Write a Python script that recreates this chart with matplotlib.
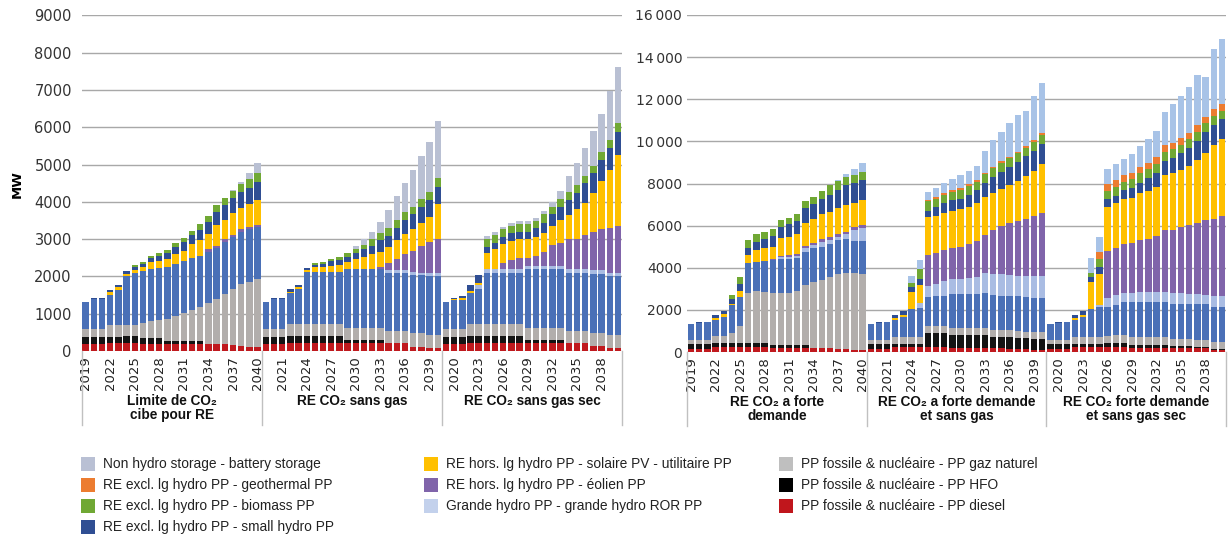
import numpy as np
import matplotlib
matplotlib.use('Agg')
import matplotlib.pyplot as plt
import matplotlib.transforms as mtrans
from matplotlib.patches import Rectangle

# Données ---------------------------------------------------------------------

years = list(range(2019, 2041))
groups_left = ['Limite de CO₂\ncibe pour RE', 'RE CO₂ sans gas', 'RE CO₂ sans gas sec']
groups_right = ['RE CO₂ a forte\ndemande', 'RE CO₂ a forte demande\net sans gas',
                'RE CO₂ forte demande\net sans gas sec']

# graphique gauche (3 scénarios x 22 années), MW
left_diesel = ([180,180,180,210,210,220,210,200,200,200,190,190,190,190,190,190,190,190,150,140,110,110]
               + [180,180,180,223,223,223,223,223,223,223,205,205,205,205,205,205,205,205,116,116,90,90]
               + [180,180,180,223,223,223,223,223,223,223,205,205,205,205,205,205,205,205,130,130,90,90])
left_hfo = ([186,186,186,175,175,170,180,160,160,160,90,90,90,90,90,0,0,0,0,0,0,0]
            + [186,186,186,177,177,177,177,177,177,177,90,90,90,90,90,0,0,0,0,0,0,0]
            + [186,186,186,177,177,177,177,177,177,177,90,90,90,90,90,0,0,0,0,0,0,0])
left_gas = ([214,214,214,315,315,310,310,390,440,460,590,670,740,810,890,1100,1200,1350,1510,1660,1750,1810]
            + [214,214,214,332,332,332,332,332,332,332,312,312,312,312,312,330,330,330,357,357,350,350]
            + [214,214,214,332,332,332,332,332,332,332,312,312,312,312,312,330,330,330,343,343,330,330])
left_dam = ([741,805,805,810,934,1300,1380,1400,1400,1400,1390,1380,1380,1410,1390,1370,1380,1390,1390,1400,1400,1410]
            + [741,804,804,813,938,1375,1375,1375,1375,1375,1581,1581,1581,1581,1581,1563,1563,1545,1563,1554,1569,1569]
            + [741,786,786,813,938,1368,1368,1368,1368,1368,1581,1581,1581,1581,1581,1563,1563,1563,1597,1597,1580,1580])
left_ror = ([0]*22
            + [0]*15 + [72,72,90,89,71,71,71]
            + [0,0,0,0,89,100,100,100,100,100,89,89,89,89,89,107,107,107,100,100,98,98])
left_wind = ([0]*15 + [70,50,60,60,60,60,60]
             + [0]*14 + [71,178,294,428,563,715,849,920]
             + [0,0,0,0,0,0,0,148,238,300,223,268,384,562,607,795,795,902,1026,1107,1188,1259])
left_solar = ([0,10,10,70,71,60,100,110,180,200,200,280,280,370,420,400,550,530,580,580,630,670]
              + [0,16,16,45,35,63,152,152,179,197,196,267,339,410,402,429,509,536,571,625,669,938]
              + [0,30,54,53,71,416,523,509,517,500,500,517,509,509,625,643,795,866,1027,1286,1562,1902])
left_smallhydro = ([0,15,15,54,54,83,70,70,100,130,160,180,240,240,270,330,350,400,400,430,430,460]
                   + [0,10,10,62,63,53,45,71,116,125,143,179,196,214,312,312,322,375,411,410,447,464]
                   + [0,33,62,170,206,179,179,188,197,196,196,224,268,313,357,402,446,518,536,571,598,625])
left_biomass = ([0,0,0,0,0,0,45,63,65,66,85,94,116,113,152,165,191,187,200,220,240,240]
                + [0,0,0,0,0,0,44,54,71,80,89,89,110,180,180,197,214,205,196,215,223,241]
                + [0,0,0,0,0,196,196,214,196,197,197,205,232,205,205,205,205,197,205,205,224,241])
left_geo = [0]*66
left_storage = ([0]*18 + [23,46,139,267]
                + [0]*11 + [89,179,205,312,491,643,795,982,1160,1339,1518]
                + [0,0,0,0,0,89,98,71,90,89,89,80,89,134,215,446,581,741,929,1027,1303,1500])

# graphique droit
right_diesel = ([158,158,158,221,221,221,221,221,221,221,174,174,174,174,174,174,174,174,127,127,95,95]
                + [158,158,158,221,221,221,221,221,221,221,174,174,174,174,174,174,174,142,142,142,95,95]
                + [158,158,158,221,221,221,221,221,221,221,174,174,174,174,174,174,174,174,174,174,95,95])
right_hfo = ([206,206,206,190,190,190,190,190,190,190,158,158,158,158,158,0,0,0,0,0,0,0]
             + [206,206,206,159,159,159,159,665,665,665,633,633,633,633,633,554,554,554,538,507,522,522]
             + [206,206,206,159,159,159,159,190,222,222,158,158,158,158,158,111,111,111,47,47,47,47])
right_gas = ([206,206,206,348,348,475,823,2405,2500,2453,2484,2484,2484,2579,2848,3164,3243,3401,3559,3606,3638,3607]
             + [206,206,206,348,348,348,348,348,348,348,316,316,316,316,316,316,316,348,332,316,316,316]
             + [206,206,206,348,348,348,348,348,364,364,364,364,364,364,364,332,332,332,349,349,348,348])
right_dam = ([759,820,840,760,918,1345,1392,1392,1376,1471,1550,1582,1582,1534,1582,1582,1582,1535,1630,1614,1551,1582]
             + [759,820,840,791,949,1297,1376,1392,1440,1440,1630,1630,1630,1630,1661,1661,1630,1630,1646,1661,1646,1646]
             + [759,820,840,791,949,1297,1392,1393,1424,1582,1693,1693,1693,1693,1693,1661,1661,1661,1692,1692,1662,1662])
right_ror = ([0]*11 + [95,95,111,158,158,206,206,158,238,506,585]
             + [0]*6 + [206,522,553,712,712,712,743,822,981,997,1028,980,965,981,1028,1028]
             + [0]*6 + [111,395,458,427,427,459,459,459,459,506,506,475,491,459,506,506])
right_wind = ([0]*10 + [64,63,111,95,111,111,142,158,111,126,158,158]
              + [0]*7 + [1456,1456,1455,1487,1534,1614,1693,1788,2088,2278,2452,2610,2721,2848,3006]
              + [0]*7 + [2262,2263,2310,2373,2468,2515,2657,2942,3006,3164,3274,3385,3544,3670,3797])
right_solar = ([0,10,15,111,111,47,285,396,554,585,569,870,870,949,1107,1107,1187,1186,1233,1265,1139,1187]
               + [0,10,15,111,79,823,870,1787,1787,1772,1756,1772,1788,1788,1787,1772,1740,1820,1898,2041,2151,2310]
               + [0,10,15,79,79,1313,1471,2089,2104,2120,2104,2214,2294,2342,2610,2689,2690,2800,2974,3195,3496,3638])
right_smallhydro = ([0,8,15,126,174,222,300,348,396,443,507,522,585,617,680,728,727,791,870,934,950,949]
                    + [0,8,15,126,206,221,269,317,396,443,506,490,553,633,665,728,838,870,902,933,949,949]
                    + [0,8,15,158,206,237,316,348,348,443,506,507,585,664,681,712,791,871,902,997,949,965])
right_biomass = ([0,0,0,0,0,221,333,364,348,317,316,317,285,317,364,348,396,459,428,411,363,395]
                 + [0,0,0,0,0,190,474,443,395,395,396,428,443,395,443,427,428,395,395,395,396,427]
                 + [0,0,0,0,0,158,380,411,411,395,396,442,427,411,427,427,395,395,411,395,443,396])
right_geo = ([0]*22
             + [0]*6 + [40,63,80,79,79,79,79,79,63,79,79,79,80,80,111,79]
             + [0]*6 + [332,316,348,316,316,317,317,317,316,317,348,317,349,317,333,316])
right_storage = ([0]*18 + [47,111,285,396]
                 + [0]*5 + [348,403,364,427,475,522,632,617,664,1028,1265,1360,1582,1740,1677,2104,2405]
                 + [0]*5 + [712,712,712,744,760,886,981,1123,1250,1582,1819,1994,2151,2373,1899,2816,3069])

# Styles ----------------------------------------------------------------------

c_diesel = '#c0191e'
c_hfo = '#141414'
c_gas = '#b2aeac'
c_dam = '#4a70b7'
c_ror = '#a9bce3'
c_wind = '#8064aa'
c_solar = '#ffc000'
c_small = '#2f4e93'
c_bio = '#70a834'
c_geo = '#ec7c30'
c_stor_l = '#b9c0d3'
c_stor_r = '#a8c3e7'

W, H = 1228, 537
narrow = ['Liberation Sans Narrow', 'DejaVu Sans']
sans = ['Liberation Sans', 'DejaVu Sans']


def fx(px):
    return px / W


def fy(py):
    return 1 - py / H


def panel(ax, layers, colors, ymax, step, groups, fmt, ypad, ysize):
    x = np.arange(66)
    bottom = np.zeros(66)
    for vals, col in zip(layers, colors):
        v = np.array(vals, dtype=float)
        ax.bar(x, v, 0.78, bottom=bottom, color=col, linewidth=0)
        bottom += v
    ax.set_xlim(-0.5, 65.5)
    ax.set_ylim(0, ymax)
    ax.set_yticks(np.arange(0, ymax + 1, step))
    ax.set_yticklabels([fmt(v) for v in np.arange(0, ymax + 1, step)],
                       fontsize=ysize, color='#333333', family='DejaVu Sans')
    ax.yaxis.grid(True, color='#a8a8a8', linewidth=1.0)
    ax.set_axisbelow(True)
    for s in ax.spines.values():
        s.set_visible(False)
    ticks = np.arange(0, 66, 3)
    ax.set_xticks(ticks)
    ax.set_xticklabels([str(years[i % 22]) for i in ticks], rotation=90,
                       fontsize=9.5, family=narrow, color='#222222')
    ax.tick_params(axis='x', length=0, pad=4)
    ax.tick_params(axis='y', length=0, pad=ypad)
    trans = mtrans.blended_transform_factory(ax.transData, ax.transAxes)
    for xb in [-0.5, 21.5, 43.5, 65.5]:
        ax.plot([xb, xb], [0, -0.22], transform=trans, color='#c0c0c0',
                linewidth=1, clip_on=False)
    for k, g in enumerate(groups):
        ax.text(10.5 + 22 * k, -0.128, g, transform=trans, ha='center', va='top',
                fontsize=9.8, weight='bold', family=sans, linespacing=1.0,
                color='#111111')


fig = plt.figure(figsize=(W / 100, H / 100), dpi=100)

axl = fig.add_axes([fx(81.5), fy(351), fx(622) - fx(81.5), (351 - 15.3) / H])
axr = fig.add_axes([fx(687), fy(352), fx(1226) - fx(687), (352 - 15) / H])

left_layers = [left_diesel, left_hfo, left_gas, left_dam, left_ror, left_wind,
               left_solar, left_smallhydro, left_biomass, left_geo, left_storage]
right_layers = [right_diesel, right_hfo, right_gas, right_dam, right_ror, right_wind,
                right_solar, right_smallhydro, right_biomass, right_geo, right_storage]
base_colors = [c_diesel, c_hfo, c_gas, c_dam, c_ror, c_wind, c_solar, c_small, c_bio, c_geo]

panel(axl, left_layers, base_colors + [c_stor_l], 9000, 1000, groups_left,
      lambda v: str(int(v)), 7, 10.5)


def fmt_fr(v):
    v = int(v)
    if v >= 10000:
        return f'{v // 1000}\u2009{v % 1000:03d}'
    return str(v)


panel(axr, right_layers, base_colors + [c_stor_r], 16000, 2000, groups_right,
      fmt_fr, 3.5, 10)

fig.text(fx(17), fy(184), 'MW', rotation=90, ha='center', va='center',
         fontsize=9.5, weight='bold', family='DejaVu Sans')

# Légende ---------------------------------------------------------------------

legend_cols = [
    (81, [('#b9c0d4', 'Non hydro storage - battery storage'),
          (c_geo, 'RE excl. lg hydro PP - geothermal PP'),
          (c_bio, 'RE excl. lg hydro PP - biomass PP'),
          (c_small, 'RE excl. lg hydro PP - small hydro PP')]),
    (424, [(c_solar, 'RE hors. lg hydro PP - solaire PV - utilitaire PP'),
           (c_wind, 'RE hors. lg hydro PP - éolien PP'),
           ('#c3d1ec', 'Grande hydro PP - grande hydro ROR PP')]),
    (779, [('#bfbfbf', 'PP fossile & nucléaire - PP gaz naturel'),
           ('#000000', 'PP fossile & nucléaire - PP HFO'),
           ('#c0161c', 'PP fossile & nucléaire - PP diesel')]),
]
rows = [464, 485, 506, 527]
for x0, items in legend_cols:
    for (col, lab), y0 in zip(items, rows):
        fig.patches.append(Rectangle((fx(x0), fy(y0 + 7)), 14 / W, 14 / H,
                                     facecolor=col, edgecolor='none',
                                     transform=fig.transFigure))
        fig.text(fx(x0 + 22), fy(y0), lab, ha='left', va='center',
                 fontsize=9.9, family=sans, color='#222222')

fig.savefig('out.png', dpi=100)
